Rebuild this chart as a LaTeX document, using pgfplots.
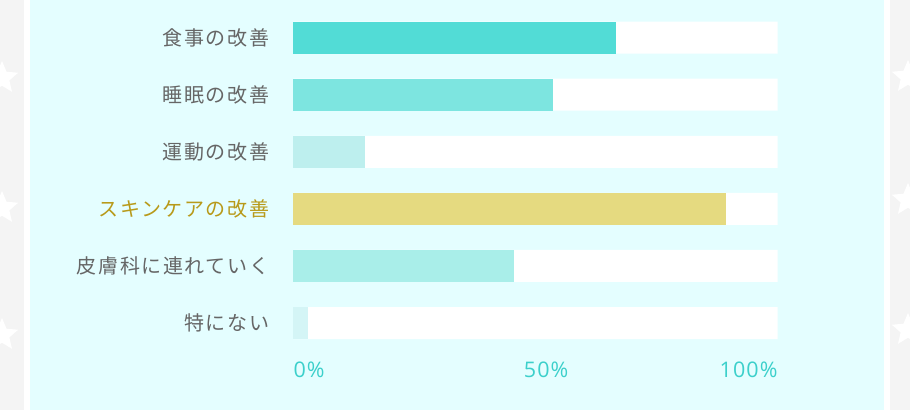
\documentclass[border=0pt]{standalone}
\usepackage{pgfplots}
\pgfplotsset{compat=1.18}
\usepackage{fontspec}
\usetikzlibrary{shapes.geometric}
\newfontfamily\cjk[LetterSpace=8]{Noto Sans CJK JP}
\newfontfamily\num[LetterSpace=5]{Open Sans}

\definecolor{bggray}{HTML}{F4F4F4}
\definecolor{panel}{HTML}{E4FEFF}
\definecolor{lbl}{HTML}{666666}
\definecolor{gold}{HTML}{B89A1A}
\definecolor{tick}{HTML}{3CD0CB}
\definecolor{cA}{HTML}{52DCD6}
\definecolor{cB}{HTML}{7DE5E0}
\definecolor{cC}{HTML}{BDEFEE}
\definecolor{cD}{HTML}{E5DA80}
\definecolor{cE}{HTML}{A9EEE9}
\definecolor{cF}{HTML}{D4F5F6}

\begin{document}
\begin{tikzpicture}[x=1bp,y=1bp]
\useasboundingbox (0,0) rectangle (910,410);
% page background and decorations
\fill[bggray] (0,0) rectangle (910,410);
\foreach \yy in {332,202,75} {
  \node[star, star points=5, star point ratio=2.2, fill=white, minimum size=34bp, inner sep=0pt] at (2,\yy) {};
}
\foreach \yy in {333,210,80} {
  \node[star, star points=5, star point ratio=2.2, fill=white, minimum size=34bp, inner sep=0pt] at (908,\yy) {};
}
\fill[white] (24,0) rectangle (890,410);
\fill[panel] (30,0) rectangle (884,410);

\begin{axis}[
  at={(293.3bp,58.4bp)}, anchor=south west,
  scale only axis, width=484.4bp, height=342.6bp,
  xbar, bar width=32bp, bar shift=0pt,
  xmin=0, xmax=100, ymin=-0.5, ymax=5.5, y dir=reverse,
  axis line style={draw=none}, major tick length=0pt,
  xtick=\empty,
  ytick={0,1,2,3,4,5},
  yticklabels={食事の改善, 睡眠の改善, 運動の改善, \textcolor{gold}{スキンケアの改善}, 皮膚科に連れていく, 特にない},
  yticklabel style={font=\cjk\fontsize{20bp}{22bp}\selectfont, text=lbl, anchor=east, inner sep=0pt, xshift=-24bp},
  clip=false,
]
% white track behind each bar
\addplot[draw=none, fill=white] coordinates {(100,0) (100,1) (100,2) (100,3) (100,4) (100,5)};
\addplot[draw=none, fill=cA] coordinates {(66.6,0)};
\addplot[draw=none, fill=cB] coordinates {(53.6,1)};
\addplot[draw=none, fill=cC] coordinates {(14.8,2)};
\addplot[draw=none, fill=cD] coordinates {(89.3,3)};
\addplot[draw=none, fill=cE] coordinates {(45.6,4)};
\addplot[draw=none, fill=cF] coordinates {(3.1,5)};
\node[anchor=base west, inner sep=0pt, text=tick, font=\num\fontsize{21.5bp}{24bp}\selectfont] at (axis cs:0,5.95) {0\%};
\node[anchor=base, inner sep=0pt, text=tick, font=\num\fontsize{21.5bp}{24bp}\selectfont] at (axis cs:52.2,5.95) {50\%};
\node[anchor=base east, inner sep=0pt, text=tick, font=\num\fontsize{21.5bp}{24bp}\selectfont] at (axis cs:100,5.95) {100\%};
\end{axis}
\end{tikzpicture}
\end{document}
